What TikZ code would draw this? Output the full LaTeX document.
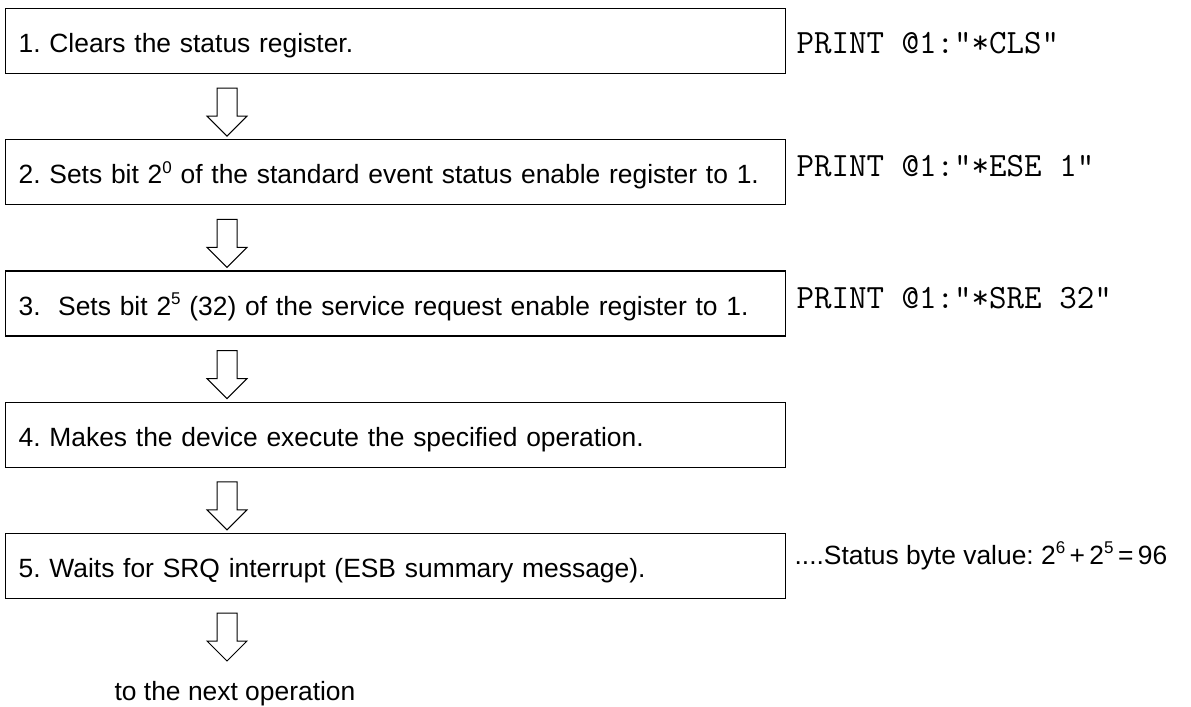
\documentclass[tikz,border=0pt]{standalone}
\usepackage{fontspec}
\setmainfont{Liberation Sans}
\usepackage{tikz}
\usetikzlibrary{calc,positioning}
\frenchspacing
\newcommand{\supnum}[1]{\raisebox{0.75ex}{\fontsize{8.5}{9}\selectfont #1}}

\begin{document}
\begin{tikzpicture}[font=\fontsize{13.2}{15.8}\selectfont,
  stepbox/.style={draw, line width=0.6pt, minimum height=32.5pt,
                  text width=377pt, inner xsep=6.5pt, align=left,
                  text height=12.5pt, text depth=1pt},
  cmd/.style={inner sep=0pt, anchor=west,
              font=\ttfamily\fontsize{17}{20}\selectfont},
  note/.style={inner sep=0pt, anchor=west}]
\useasboundingbox (0,0) rectangle (595.5pt,-353.5pt);
\node[stepbox, anchor=north west] (b1) at (2.5pt,-4pt)
  {1. Clears the status register.};
\node[stepbox, below=32.5pt of b1] (b2)
  {2. Sets bit 2\supnum{0} of the standard event status enable register to 1.};
\node[stepbox, below=32.5pt of b2] (b3)
  {3.\ \ Sets bit 2\supnum{5} (32) of the service request enable register to 1.};
\node[stepbox, below=32.5pt of b3] (b4)
  {4. Makes the device execute the specified operation.};
\node[stepbox, below=32.5pt of b4] (b5)
  {5. Waits for SRQ interrupt (ESB summary message).};
\node[cmd, right=5pt of b1.east, yshift=-1pt] (c1) {PRINT @1:"*CLS"};
\node[cmd, right=5pt of b2.east, yshift=3pt] (c2) {PRINT @1:"*ESE 1"};
\node[cmd, right=5pt of b3.east, yshift=2.5pt] (c3) {PRINT @1:"*SRE 32"};
\node[note, right=4pt of b5.east, yshift=5pt] (sb)
  {....Status byte value: 2\supnum{6}\,+\,2\supnum{5}\,=\,96};
\coordinate (endpt) at ([yshift=-32.5pt]b5.south west);
\node (next) at ([xshift=115pt,yshift=-47.5pt]b5.south west) {to the next operation};
\foreach \a/\b in {b1/b2.north west, b2/b3.north west, b3/b4.north west,
                   b4/b5.north west, b5/endpt}
  \draw[line width=0.5pt] ([xshift=106pt,yshift=-7pt]\a.south west)
    -- ([xshift=106pt,yshift=11.5pt]\b) -- ++(-5pt,0)
    -- ([xshift=111pt,yshift=1.5pt]\b) -- ++(10pt,10pt) -- ++(-5pt,0)
    -- ([xshift=116pt,yshift=-7pt]\a.south west) -- cycle;
\end{tikzpicture}
\end{document}
